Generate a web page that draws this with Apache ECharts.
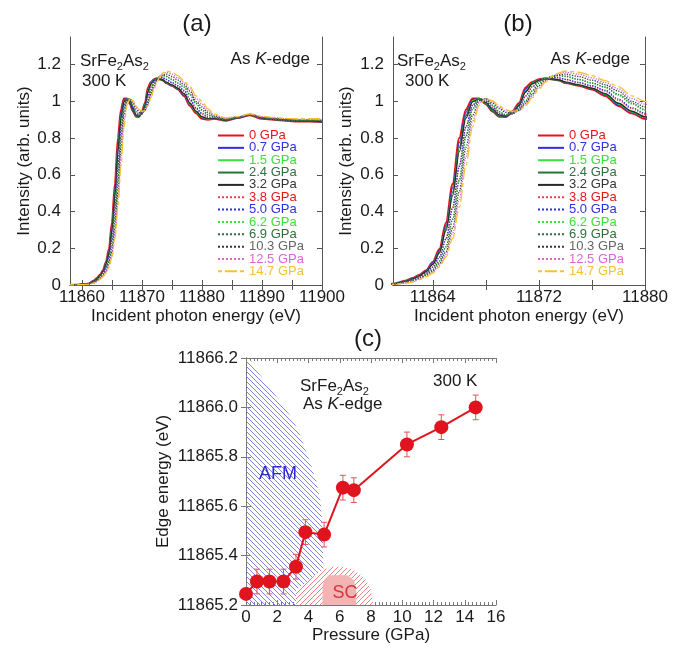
<!DOCTYPE html>
<html>
<head>
<meta charset="utf-8">
<script src="https://cdn.jsdelivr.net/npm/echarts@6/dist/echarts.min.js"></script>
<style>
  html, body { margin: 0; padding: 0; background: #fff; }
  #chart { width: 685px; height: 648px; }
</style>
</head>
<body>
<div id="chart"></div>
<script>
// ---- spectra (a), (b): shared energy grid, one intensity list per pressure ----
const energy = [11858, 11859, 11860, 11861, 11862, 11862.5, 11863, 11863.5, 11864, 11864.5, 11865, 11865.5, 11866, 11866.5, 11867, 11867.5, 11868, 11868.5, 11869, 11869.5, 11870, 11870.5, 11871, 11871.5, 11872, 11872.5, 11873, 11873.5, 11874, 11875, 11876, 11877, 11878, 11879, 11880, 11881, 11882, 11884, 11886, 11888, 11890, 11892, 11894, 11896, 11898, 11900];

const p00 = [0, 0.001, 0.003, 0.006, 0.024, 0.038, 0.055, 0.08, 0.125, 0.195, 0.34, 0.55, 0.80, 0.955, 1.015, 1.015, 0.985, 0.945, 0.918, 0.92, 0.945, 0.99, 1.075, 1.105, 1.12, 1.125, 1.12, 1.115, 1.10, 1.085, 1.065, 1.03, 0.975, 0.935, 0.905, 0.90, 0.905, 0.895, 0.91, 0.925, 0.905, 0.90, 0.895, 0.89, 0.89, 0.888];
const p07 = [0, 0.001, 0.003, 0.006, 0.023, 0.037, 0.053, 0.078, 0.12, 0.188, 0.325, 0.53, 0.775, 0.94, 1.01, 1.015, 0.988, 0.949, 0.921, 0.92, 0.942, 0.985, 1.066, 1.102, 1.118, 1.125, 1.12, 1.115, 1.102, 1.087, 1.068, 1.035, 0.98, 0.94, 0.91, 0.902, 0.905, 0.897, 0.91, 0.926, 0.907, 0.901, 0.896, 0.892, 0.891, 0.889];
const p15 = [0, 0.001, 0.003, 0.006, 0.022, 0.035, 0.052, 0.075, 0.116, 0.181, 0.311, 0.508, 0.75, 0.924, 1.003, 1.015, 0.991, 0.953, 0.923, 0.92, 0.94, 0.981, 1.058, 1.099, 1.117, 1.124, 1.121, 1.116, 1.103, 1.088, 1.07, 1.038, 0.985, 0.942, 0.912, 0.903, 0.906, 0.898, 0.911, 0.927, 0.908, 0.902, 0.897, 0.893, 0.892, 0.89];
const p24 = [0, 0.001, 0.003, 0.006, 0.022, 0.035, 0.051, 0.074, 0.115, 0.18, 0.31, 0.505, 0.748, 0.922, 1.0, 1.012, 0.985, 0.945, 0.915, 0.912, 0.935, 0.978, 1.055, 1.095, 1.113, 1.12, 1.118, 1.112, 1.1, 1.086, 1.07, 1.04, 0.988, 0.945, 0.915, 0.905, 0.906, 0.897, 0.91, 0.925, 0.907, 0.9, 0.895, 0.891, 0.89, 0.888];
const p32 = [0, 0.001, 0.003, 0.005, 0.021, 0.034, 0.05, 0.073, 0.112, 0.174, 0.297, 0.487, 0.725, 0.908, 0.997, 1.015, 0.994, 0.957, 0.926, 0.918, 0.937, 0.976, 1.05, 1.095, 1.115, 1.123, 1.122, 1.117, 1.105, 1.09, 1.072, 1.042, 0.99, 0.947, 0.916, 0.905, 0.907, 0.898, 0.911, 0.927, 0.908, 0.902, 0.897, 0.893, 0.892, 0.89];
const p38 = [0, 0.001, 0.002, 0.005, 0.017, 0.03, 0.045, 0.065, 0.098, 0.153, 0.253, 0.424, 0.65, 0.862, 0.979, 1.015, 1.003, 0.969, 0.934, 0.922, 0.935, 0.968, 1.03, 1.08, 1.11, 1.125, 1.13, 1.128, 1.118, 1.1, 1.082, 1.055, 1.005, 0.96, 0.928, 0.912, 0.91, 0.9, 0.912, 0.928, 0.91, 0.903, 0.898, 0.895, 0.894, 0.893];
const p50 = [0, 0.001, 0.002, 0.005, 0.017, 0.029, 0.044, 0.064, 0.097, 0.15, 0.25, 0.42, 0.645, 0.86, 0.978, 1.014, 1.0, 0.965, 0.93, 0.92, 0.933, 0.966, 1.028, 1.078, 1.108, 1.124, 1.13, 1.128, 1.12, 1.103, 1.085, 1.06, 1.012, 0.965, 0.935, 0.915, 0.91, 0.9, 0.912, 0.927, 0.91, 0.904, 0.899, 0.895, 0.894, 0.893];
const p62 = [0, 0.001, 0.002, 0.004, 0.015, 0.025, 0.04, 0.058, 0.085, 0.132, 0.21, 0.361, 0.575, 0.815, 0.961, 1.014, 1.012, 0.98, 0.945, 0.928, 0.933, 0.958, 1.005, 1.06, 1.1, 1.125, 1.137, 1.14, 1.135, 1.117, 1.098, 1.075, 1.032, 0.985, 0.95, 0.925, 0.913, 0.902, 0.913, 0.928, 0.912, 0.905, 0.9, 0.897, 0.897, 0.896];
const p69 = [0, 0.001, 0.002, 0.004, 0.015, 0.025, 0.039, 0.057, 0.084, 0.13, 0.207, 0.357, 0.57, 0.81, 0.958, 1.012, 1.01, 0.978, 0.942, 0.925, 0.93, 0.955, 1.0, 1.055, 1.097, 1.122, 1.135, 1.14, 1.137, 1.12, 1.1, 1.078, 1.038, 0.99, 0.955, 0.928, 0.915, 0.903, 0.913, 0.928, 0.912, 0.906, 0.901, 0.898, 0.897, 0.896];
const p103 = [0, 0.001, 0.002, 0.004, 0.013, 0.022, 0.035, 0.052, 0.075, 0.116, 0.181, 0.311, 0.508, 0.75, 0.924, 1.003, 1.015, 0.991, 0.96, 0.94, 0.935, 0.95, 0.99, 1.04, 1.085, 1.115, 1.135, 1.145, 1.148, 1.135, 1.115, 1.09, 1.055, 1.0, 0.97, 0.94, 0.92, 0.905, 0.915, 0.93, 0.915, 0.908, 0.903, 0.9, 0.9, 0.9];
const p125 = [0, 0.001, 0.002, 0.004, 0.011, 0.019, 0.032, 0.048, 0.07, 0.107, 0.167, 0.282, 0.466, 0.70, 0.893, 0.991, 1.015, 0.997, 0.968, 0.948, 0.94, 0.95, 0.982, 1.03, 1.075, 1.11, 1.135, 1.152, 1.158, 1.148, 1.128, 1.102, 1.068, 1.015, 0.985, 0.95, 0.925, 0.907, 0.916, 0.93, 0.916, 0.91, 0.905, 0.902, 0.902, 0.902];
const p147 = [0, 0.001, 0.002, 0.003, 0.01, 0.017, 0.03, 0.045, 0.065, 0.098, 0.153, 0.253, 0.424, 0.65, 0.862, 0.979, 1.015, 1.003, 0.975, 0.955, 0.945, 0.95, 0.975, 1.02, 1.065, 1.105, 1.135, 1.155, 1.165, 1.158, 1.14, 1.112, 1.08, 1.03, 1.0, 0.96, 0.93, 0.91, 0.917, 0.932, 0.918, 0.912, 0.907, 0.905, 0.905, 0.905];

const pressureNames = ['0 GPa', '0.7 GPa', '1.5 GPa', '2.4 GPa', '3.2 GPa', '3.8 GPa', '5.0 GPa', '6.2 GPa', '6.9 GPa', '10.3 GPa', '12.5 GPa', '14.7 GPa'];
const spectra = [p00, p07, p15, p24, p32, p38, p50, p62, p69, p103, p125, p147];

// tick values
const ticksA = [11860, 11865, 11870, 11875, 11880, 11885, 11890, 11895, 11900];
const labelsA = [11860, 11870, 11880, 11890, 11900];
const ticksB = [11864, 11868, 11872, 11876, 11880];
const labelsB = [11864, 11872, 11880];
const ticksI = [0, 0.2, 0.4, 0.6, 0.8, 1, 1.2];

// ---- panel (c): edge energy vs pressure ----
const pressures = [0, 0.7, 1.5, 2.4, 3.2, 3.8, 5.0, 6.2, 6.9, 10.3, 12.5, 14.7];
const edgeEnergy = [11865.245, 11865.295, 11865.295, 11865.295, 11865.355, 11865.495, 11865.485, 11865.675, 11865.665, 11865.85, 11865.92, 11866.0];
const edgeErr = [0, 0.05, 0.05, 0.05, 0.05, 0.05, 0.05, 0.05, 0.05, 0.05, 0.05, 0.05];

// phase regions (pressure, energy outlines)
const afmP = [0, 0.3, 0.8, 1.5, 2.0, 2.9, 3.4, 4.15, 4.5, 4.8, 4.9, 4.95, 4.95, 0];
const afmE = [11866.2, 11866.19, 11866.14, 11866.08, 11866.04, 11865.96, 11865.9, 11865.77, 11865.7, 11865.61, 11865.5, 11865.37, 11865.2, 11865.2];
const scP = [3.2, 3.2, 3.8, 4.4, 5.0, 5.6, 6.2, 6.8, 7.3, 7.7, 8.0, 8.15];
const scE = [11865.2, 11865.26, 11865.29, 11865.32, 11865.345, 11865.355, 11865.355, 11865.345, 11865.325, 11865.3, 11865.26, 11865.2];
const scCoreP = [4.9, 4.9, 5.05, 5.3, 6.5, 6.9, 7.05, 7.05];
const scCoreE = [11865.2, 11865.28, 11865.305, 11865.32, 11865.32, 11865.3, 11865.26, 11865.2];

// ---- styles ----
const FONT = 'Liberation Sans';
const lineColors = ['#e8141c', '#2f2fe0', '#3ce03c', '#2f6f3c', '#2a2a2a', '#f0404c', '#2f2fe0', '#3ce03c', '#2f6f3c', '#3a3a3a', '#d868d8', '#f7c232'];
const textColors = ['#e8141c', '#2f2fe0', '#3ce03c', '#2f6f3c', '#333333', '#e8141c', '#2f2fe0', '#3ce03c', '#2f6f3c', '#666666', '#d868d8', '#f7c232'];
const lineTypes = ['solid', 'solid', 'solid', 'solid', 'solid', 'dotted', 'dotted', 'dotted', 'dotted', 'dotted', 'dotted', [4, 3, 12, 3]];
const lineWidths = [2.2, 1.2, 1.2, 1.2, 1.2, 1.3, 1.3, 1.3, 1.3, 1.3, 1.3, 1.3];
const frameColor = '#555';

// diagonal hatch tile, returned as an image pattern
function hatch(color, dir, bg) {
  const n = 5;
  const c = document.createElement('canvas');
  c.width = n; c.height = n;
  const ctx = c.getContext('2d');
  ctx.fillStyle = bg || 'rgba(255,255,255,0)';
  ctx.fillRect(0, 0, n, n);
  ctx.strokeStyle = color;
  ctx.lineWidth = 1;
  for (const k of [-n, 0, n]) {
    ctx.beginPath();
    if (dir === '\\') { ctx.moveTo(k, 0); ctx.lineTo(k + n, n); }
    else { ctx.moveTo(k, n); ctx.lineTo(k + n, 0); }
    ctx.stroke();
  }
  return { image: c.toDataURL(), repeat: 'repeat' };
}

const plainNum = function (v) { return String(v); };

function specXAxes(grid, min, max, ticks, labels) {
  const base = {
    gridIndex: grid, type: 'value', min: min, max: max,
    axisLine: { show: true, lineStyle: { color: frameColor } },
    axisTick: { show: true, inside: true, length: 5, customValues: ticks, lineStyle: { color: frameColor } },
    splitLine: { show: false }
  };
  return [
    Object.assign({}, base, {
      position: 'bottom',
      axisLabel: { customValues: labels, formatter: plainNum, color: '#1a1a1a', fontSize: 17, fontFamily: FONT, margin: 4 },
      name: 'Incident photon energy (eV)', nameLocation: 'middle', nameGap: 23,
      nameTextStyle: { fontSize: 17, fontFamily: FONT, color: '#1a1a1a' }
    }),
    Object.assign({}, base, { position: 'top', axisLabel: { show: false } })
  ];
}

function specYAxes(grid, gap) {
  const base = {
    gridIndex: grid, type: 'value', min: 0, max: 1.35,
    axisLine: { show: true, lineStyle: { color: frameColor } },
    axisTick: { show: true, inside: true, length: 5, customValues: ticksI, lineStyle: { color: frameColor } },
    splitLine: { show: false }
  };
  return [
    Object.assign({}, base, {
      position: 'left',
      axisLabel: { customValues: ticksI, formatter: plainNum, color: '#1a1a1a', fontSize: 17, fontFamily: FONT, margin: 9 },
      name: 'Intensity (arb. units)', nameLocation: 'middle', nameGap: gap,
      nameTextStyle: { fontSize: 17, fontFamily: FONT, color: '#1a1a1a' }
    }),
    Object.assign({}, base, { position: 'right', axisLabel: { show: false } })
  ];
}

const series = [];
[0, 1].forEach(function (panel) {
  spectra.forEach(function (vals, i) {
    series.push({
      type: 'line', name: pressureNames[i],
      xAxisIndex: panel * 2, yAxisIndex: panel * 2,
      data: energy.map(function (e, j) { return [e, vals[j]]; }),
      symbol: 'none', smooth: 0.3, smoothMonotone: 'x', clip: true,
      lineStyle: { color: lineColors[i], width: lineWidths[i], type: lineTypes[i] },
      itemStyle: { color: lineColors[i] },
      emphasis: { disabled: true }
    });
  });
});

function region(ps, es, fill, z) {
  return {
    type: 'custom', xAxisIndex: 4, yAxisIndex: 4, silent: true, z: z,
    data: [[ps[0], es[0]]],
    renderItem: function (params, api) {
      return {
        type: 'polygon',
        shape: { points: ps.map(function (p, i) { return api.coord([p, es[i]]); }) },
        style: { fill: fill, stroke: null }
      };
    }
  };
}

series.push(region(afmP, afmE, hatch('#8282e6', '\\'), 1));
series.push(region(scP, scE, '#ffffff', 2));
series.push(region(scP, scE, hatch('#f08080', '/'), 2));
series.push(region(scCoreP, scCoreE, '#f5b4b4', 3));

series.push({
  type: 'custom', xAxisIndex: 4, yAxisIndex: 4, silent: true, z: 4,
  data: pressures.map(function (p, i) { return [p, edgeEnergy[i], edgeErr[i]]; }),
  renderItem: function (params, api) {
    const x = api.value(0), y = api.value(1), e = api.value(2);
    const t = api.coord([x, y + e]), b = api.coord([x, y - e]);
    const st = { stroke: '#e8505a', lineWidth: 1 };
    return {
      type: 'group',
      children: [
        { type: 'line', shape: { x1: t[0], y1: t[1], x2: b[0], y2: b[1] }, style: st },
        { type: 'line', shape: { x1: t[0] - 3, y1: t[1], x2: t[0] + 3, y2: t[1] }, style: st },
        { type: 'line', shape: { x1: b[0] - 3, y1: b[1], x2: b[0] + 3, y2: b[1] }, style: st }
      ]
    };
  }
});

series.push({
  type: 'line', name: 'edge', xAxisIndex: 4, yAxisIndex: 4, z: 5,
  data: pressures.map(function (p, i) { return [p, edgeEnergy[i]]; }),
  symbol: 'circle', symbolSize: 14,
  lineStyle: { color: '#e0141e', width: 2 },
  itemStyle: { color: '#e0141e' },
  emphasis: { disabled: true }
});

function legendFor(left) {
  return {
    orient: 'vertical', left: left, top: 129, padding: 0,
    itemWidth: 26, itemHeight: 8, itemGap: -0.65,
    selectedMode: false,
    itemStyle: { opacity: 0 },
    textStyle: { fontSize: 13, fontFamily: FONT, lineHeight: 10.9 },
    data: pressureNames.map(function (n, i) { return { name: n, textStyle: { color: textColors[i] } }; })
  };
}

const cAxisStyle = { lineStyle: { color: '#777' } };

const chart = echarts.init(document.getElementById('chart'), null, { renderer: 'canvas' });
chart.setOption({
  animation: false,
  backgroundColor: '#fff',
  textStyle: { fontFamily: FONT },
  grid: [
    { left: 70, right: 363, top: 37, bottom: 363, outerBoundsMode: 'none' },
    { left: 393, right: 40, top: 37, bottom: 363, outerBoundsMode: 'none' },
    { left: 246, right: 189, top: 358, bottom: 43, outerBoundsMode: 'none' }
  ],
  xAxis: specXAxes(0, 11858, 11900, ticksA, labelsA)
    .concat(specXAxes(1, 11861, 11880, ticksB, labelsB))
    .concat([
      {
        gridIndex: 2, type: 'value', min: 0, max: 16, interval: 2, position: 'bottom',
        axisLine: cAxisStyle,
        axisTick: { inside: true, length: 5, lineStyle: { color: '#777' } },
        minorTick: { show: true, splitNumber: 8, length: 3, lineStyle: { color: '#777' } },
        splitLine: { show: false },
        axisLabel: { color: '#1a1a1a', fontSize: 17, fontFamily: FONT, margin: 4 },
        name: 'Pressure (GPa)', nameLocation: 'middle', nameGap: 18,
        nameTextStyle: { fontSize: 17, fontFamily: FONT, color: '#1a1a1a' }
      },
      {
        gridIndex: 2, type: 'value', min: 0, max: 16, interval: 2, position: 'top',
        axisLine: cAxisStyle,
        axisTick: { inside: true, length: 5, lineStyle: { color: '#777' } },
        minorTick: { show: true, splitNumber: 8, length: 3, lineStyle: { color: '#777' } },
        splitLine: { show: false }, axisLabel: { show: false }
      }
    ]),
  yAxis: specYAxes(0, 37).concat(specYAxes(1, 38)).concat([
    {
      gridIndex: 2, type: 'value', min: 11865.2, max: 11866.2, interval: 0.2, position: 'left',
      axisLine: cAxisStyle,
      axisTick: { inside: true, length: 5, lineStyle: { color: '#777' } },
      splitLine: { show: false },
      axisLabel: {
        color: '#1a1a1a', fontSize: 17, fontFamily: FONT, margin: 8,
        formatter: function (v) { return v.toFixed(1); }
      },
      name: 'Edge energy (eV)', nameLocation: 'middle', nameGap: 74,
      nameTextStyle: { fontSize: 17, fontFamily: FONT, color: '#1a1a1a' }
    },
    {
      gridIndex: 2, type: 'value', min: 11865.2, max: 11866.2, interval: 0.2, position: 'right',
      axisLine: cAxisStyle,
      axisTick: { inside: true, length: 5, lineStyle: { color: '#777' } },
      splitLine: { show: false }, axisLabel: { show: false }
    }
  ]),
  legend: [legendFor(217), legendFor(537)],
  series: series,
  graphic: (function () {
    const rich = {
      n: { fontSize: 17, fontFamily: FONT, lineHeight: 22, fill: '#1a1a1a' },
      s: { fontSize: 11, fontFamily: FONT, lineHeight: 12, verticalAlign: 'bottom', fill: '#1a1a1a' },
      k: { fontSize: 17, fontFamily: FONT, fontStyle: 'italic', lineHeight: 22, fill: '#1a1a1a' }
    };
    function txt(x, y, text, align, extra) {
      return {
        type: 'text', x: x, y: y, z: 100, silent: true,
        style: Object.assign({
          text: text, rich: rich, fill: '#1a1a1a',
          font: '17px "' + FONT + '"',
          align: align || 'left', verticalAlign: 'middle'
        }, extra || {})
      };
    }
    const compound = '{n|SrFe}{s|2}{n|As}{s|2}';
    const edge = '{n|As }{k|K}{n|-edge}';
    return [
      txt(197, 24, '(a)', 'center', { font: '24px "' + FONT + '"' }),
      txt(518, 24, '(b)', 'center', { font: '24px "' + FONT + '"' }),
      txt(368, 339, '(c)', 'center', { font: '24px "' + FONT + '"' }),
      txt(80, 61, compound),
      txt(82, 81, '{n|300 K}'),
      txt(310, 59, edge, 'right'),
      txt(397, 61, compound),
      txt(405, 81, '{n|300 K}'),
      txt(630, 59, edge, 'right'),
      txt(300, 386, compound),
      txt(303, 404, edge),
      txt(433, 381, '{n|300 K}'),
      txt(278, 474, 'AFM', 'center', { font: '18px "' + FONT + '"', fill: '#2b2bd0' }),
      txt(345, 593, 'SC', 'center', { font: '18px "' + FONT + '"', fill: '#e0303a' })
    ];
  })()
});
</script>
</body>
</html>
